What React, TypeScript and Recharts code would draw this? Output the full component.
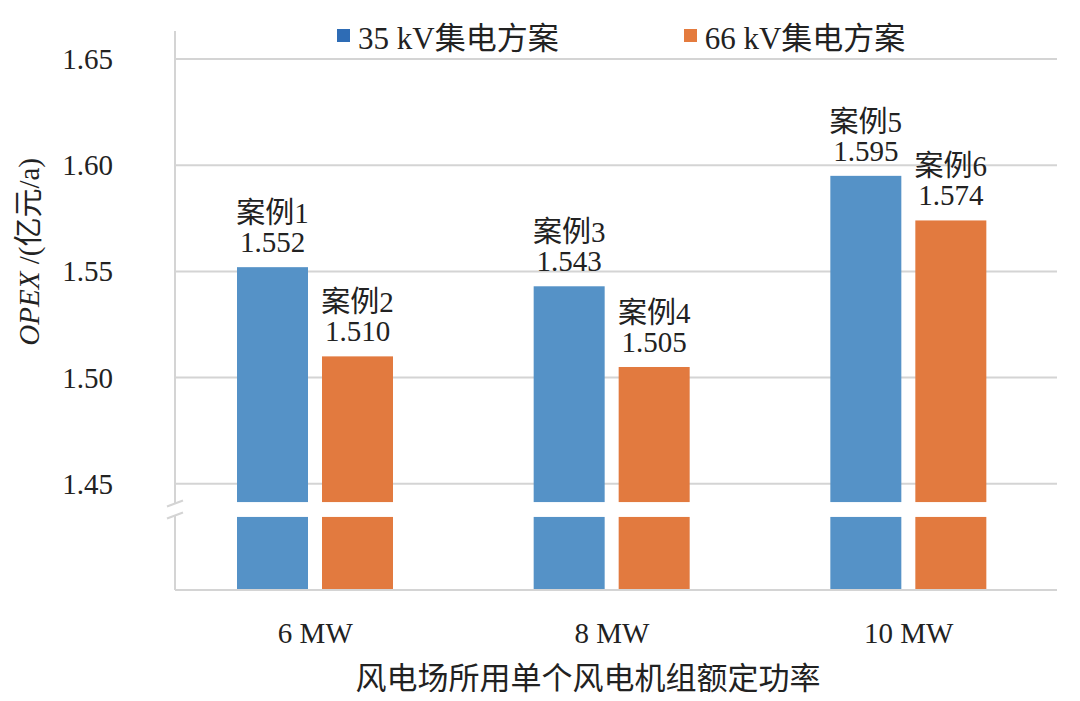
import React from 'react';
import { BarChart, Bar, XAxis, YAxis, CartesianGrid, LabelList } from 'recharts';

const categories = ['6 MW', '8 MW', '10 MW'];
const opex35 = [1.552, 1.543, 1.595];
const opex66 = [1.51, 1.505, 1.574];
const cases35 = ['案例1', '案例3', '案例5'];
const cases66 = ['案例2', '案例4', '案例6'];
const seriesNames = ['35 kV集电方案', '66 kV集电方案'];
const yTicks = [1.45, 1.5, 1.55, 1.6, 1.65];

// broken axis: bars start at 1.40, white band cut out around 1.437
const AXIS_MIN = 1.4;
const AXIS_MAX = 1.6632;
const BREAK_LOW = 1.4344;
const BREAK_HIGH = 1.4414;
const BREAK_MID = (BREAK_LOW + BREAK_HIGH) / 2;

const BLUE = '#5592C7';
const ORANGE = '#E27A3F';
const GRID = '#d4d4d4';
const FONT = '"Liberation Serif", "Times New Roman", "Noto Sans CJK SC", serif';
const TICK_MARGIN = 62;

const data = categories.map((c, i) => ({
  category: c,
  kv35: opex35[i],
  kv66: opex66[i],
}));

function BrokenBar(props: any) {
  const { x, y, width, height, fill } = props;
  let v = props.value;
  if (Array.isArray(v)) v = v[1];
  if (typeof v !== 'number') v = props.payload?.[props.dataKey];
  const bottom = y + height;
  const k = height / (v - AXIS_MIN);
  const gapTop = bottom - (BREAK_HIGH - AXIS_MIN) * k;
  const gapBottom = bottom - (BREAK_LOW - AXIS_MIN) * k;
  return (
    <g>
      <rect x={x} y={y} width={width} height={Math.max(0, gapTop - y)} fill={fill} />
      <rect x={x} y={gapBottom} width={width} height={Math.max(0, bottom - gapBottom)} fill={fill} />
    </g>
  );
}

function YTick(props: any) {
  const { x, y, payload } = props;
  if (Math.abs(payload.value - BREAK_MID) < 1e-6) {
    const ax = x + TICK_MARGIN;
    return (
      <g>
        <rect x={ax - 3} y={y - 6} width={6} height={12} fill="#fff" />
        <line x1={ax - 8} y1={y - 3} x2={ax + 8} y2={y - 9} stroke={GRID} strokeWidth={2} />
        <line x1={ax - 8} y1={y + 9} x2={ax + 8} y2={y + 3} stroke={GRID} strokeWidth={2} />
      </g>
    );
  }
  return (
    <text x={x} y={y} textAnchor="end" dominantBaseline="central" fontSize={29} fontFamily={FONT} fill="#222">
      {payload.value.toFixed(2)}
    </text>
  );
}

const makeCaseLabel = (names: string[], values: number[]) => (props: any) => {
  const { x, y, width, value } = props;
  let index = props.index;
  if (typeof index !== 'number') index = values.indexOf(value);
  const cx = x + width / 2;
  return (
    <g fontFamily={FONT} fontSize={29} fill="#222">
      <text x={cx} y={y - 44} textAnchor="middle">{names[index]}</text>
      <text x={cx} y={y - 15} textAnchor="middle">{Number(value).toFixed(3)}</text>
    </g>
  );
};

function YTitle(props: any) {
  const vb = props.viewBox || {};
  const cx = 29;
  const cy = (vb.y ?? 31) + (vb.height ?? 559) * 0.395;
  return (
    <text x={cx} y={cy} transform={`rotate(-90 ${cx} ${cy})`} textAnchor="middle" dominantBaseline="central"
      fontFamily={FONT} fontSize={29} fill="#222">
      <tspan fontStyle="italic">OPEX</tspan>
      <tspan> /(亿元/a)</tspan>
    </text>
  );
}

function XTitle(props: any) {
  const vb = props.viewBox || {};
  const cx = (vb.x ?? 175) + (vb.width ?? 882) / 2 - 28;
  return (
    <text x={cx} y={(vb.y ?? 590) + 88} textAnchor="middle" dominantBaseline="central"
      fontFamily={FONT} fontSize={31} fill="#222">
      风电场所用单个风电机组额定功率
    </text>
  );
}

export default function App() {
  return (
    <div style={{ position: 'absolute', left: 0, top: 0, width: 1080, height: 701, background: '#fff' }}>
      <div style={{ position: 'absolute', left: 337, top: 13, display: 'flex', alignItems: 'center', fontFamily: FONT, fontSize: 31, color: '#222', whiteSpace: 'nowrap' }}>
        <span style={{ width: 13, height: 13, background: '#2E6CB5', marginRight: 8, display: 'inline-block' }} />
        <span>{seriesNames[0]}</span>
        <span style={{ width: 13, height: 13, background: '#E47B3E', marginLeft: 125, marginRight: 8, display: 'inline-block' }} />
        <span>{seriesNames[1]}</span>
      </div>
      <BarChart width={1080} height={701} data={data} margin={{ top: 31, right: 23, left: 0, bottom: 0 }}
        barSize={71} barGap={14}>
        <CartesianGrid vertical={false} stroke={GRID} strokeWidth={2} horizontalValues={yTicks} />
        <XAxis dataKey="category" height={111} tickLine={false} axisLine={{ stroke: GRID, strokeWidth: 2 }}
          padding={{ left: -8, right: 0 }} tickMargin={26}
          tick={{ fontSize: 29, fontFamily: FONT, fill: '#222' }} label={<XTitle />} />
        <YAxis type="number" domain={[AXIS_MIN, AXIS_MAX]} allowDataOverflow width={175}
          ticks={[...yTicks, BREAK_MID]} interval={0} tickLine={false} tickSize={0} tickMargin={TICK_MARGIN}
          axisLine={{ stroke: GRID, strokeWidth: 2 }} tick={<YTick />} label={<YTitle />} />
        <Bar dataKey="kv35" fill={BLUE} shape={<BrokenBar />} isAnimationActive={false}>
          <LabelList dataKey="kv35" content={makeCaseLabel(cases35, opex35)} />
        </Bar>
        <Bar dataKey="kv66" fill={ORANGE} shape={<BrokenBar />} isAnimationActive={false}>
          <LabelList dataKey="kv66" content={makeCaseLabel(cases66, opex66)} />
        </Bar>
      </BarChart>
    </div>
  );
}
